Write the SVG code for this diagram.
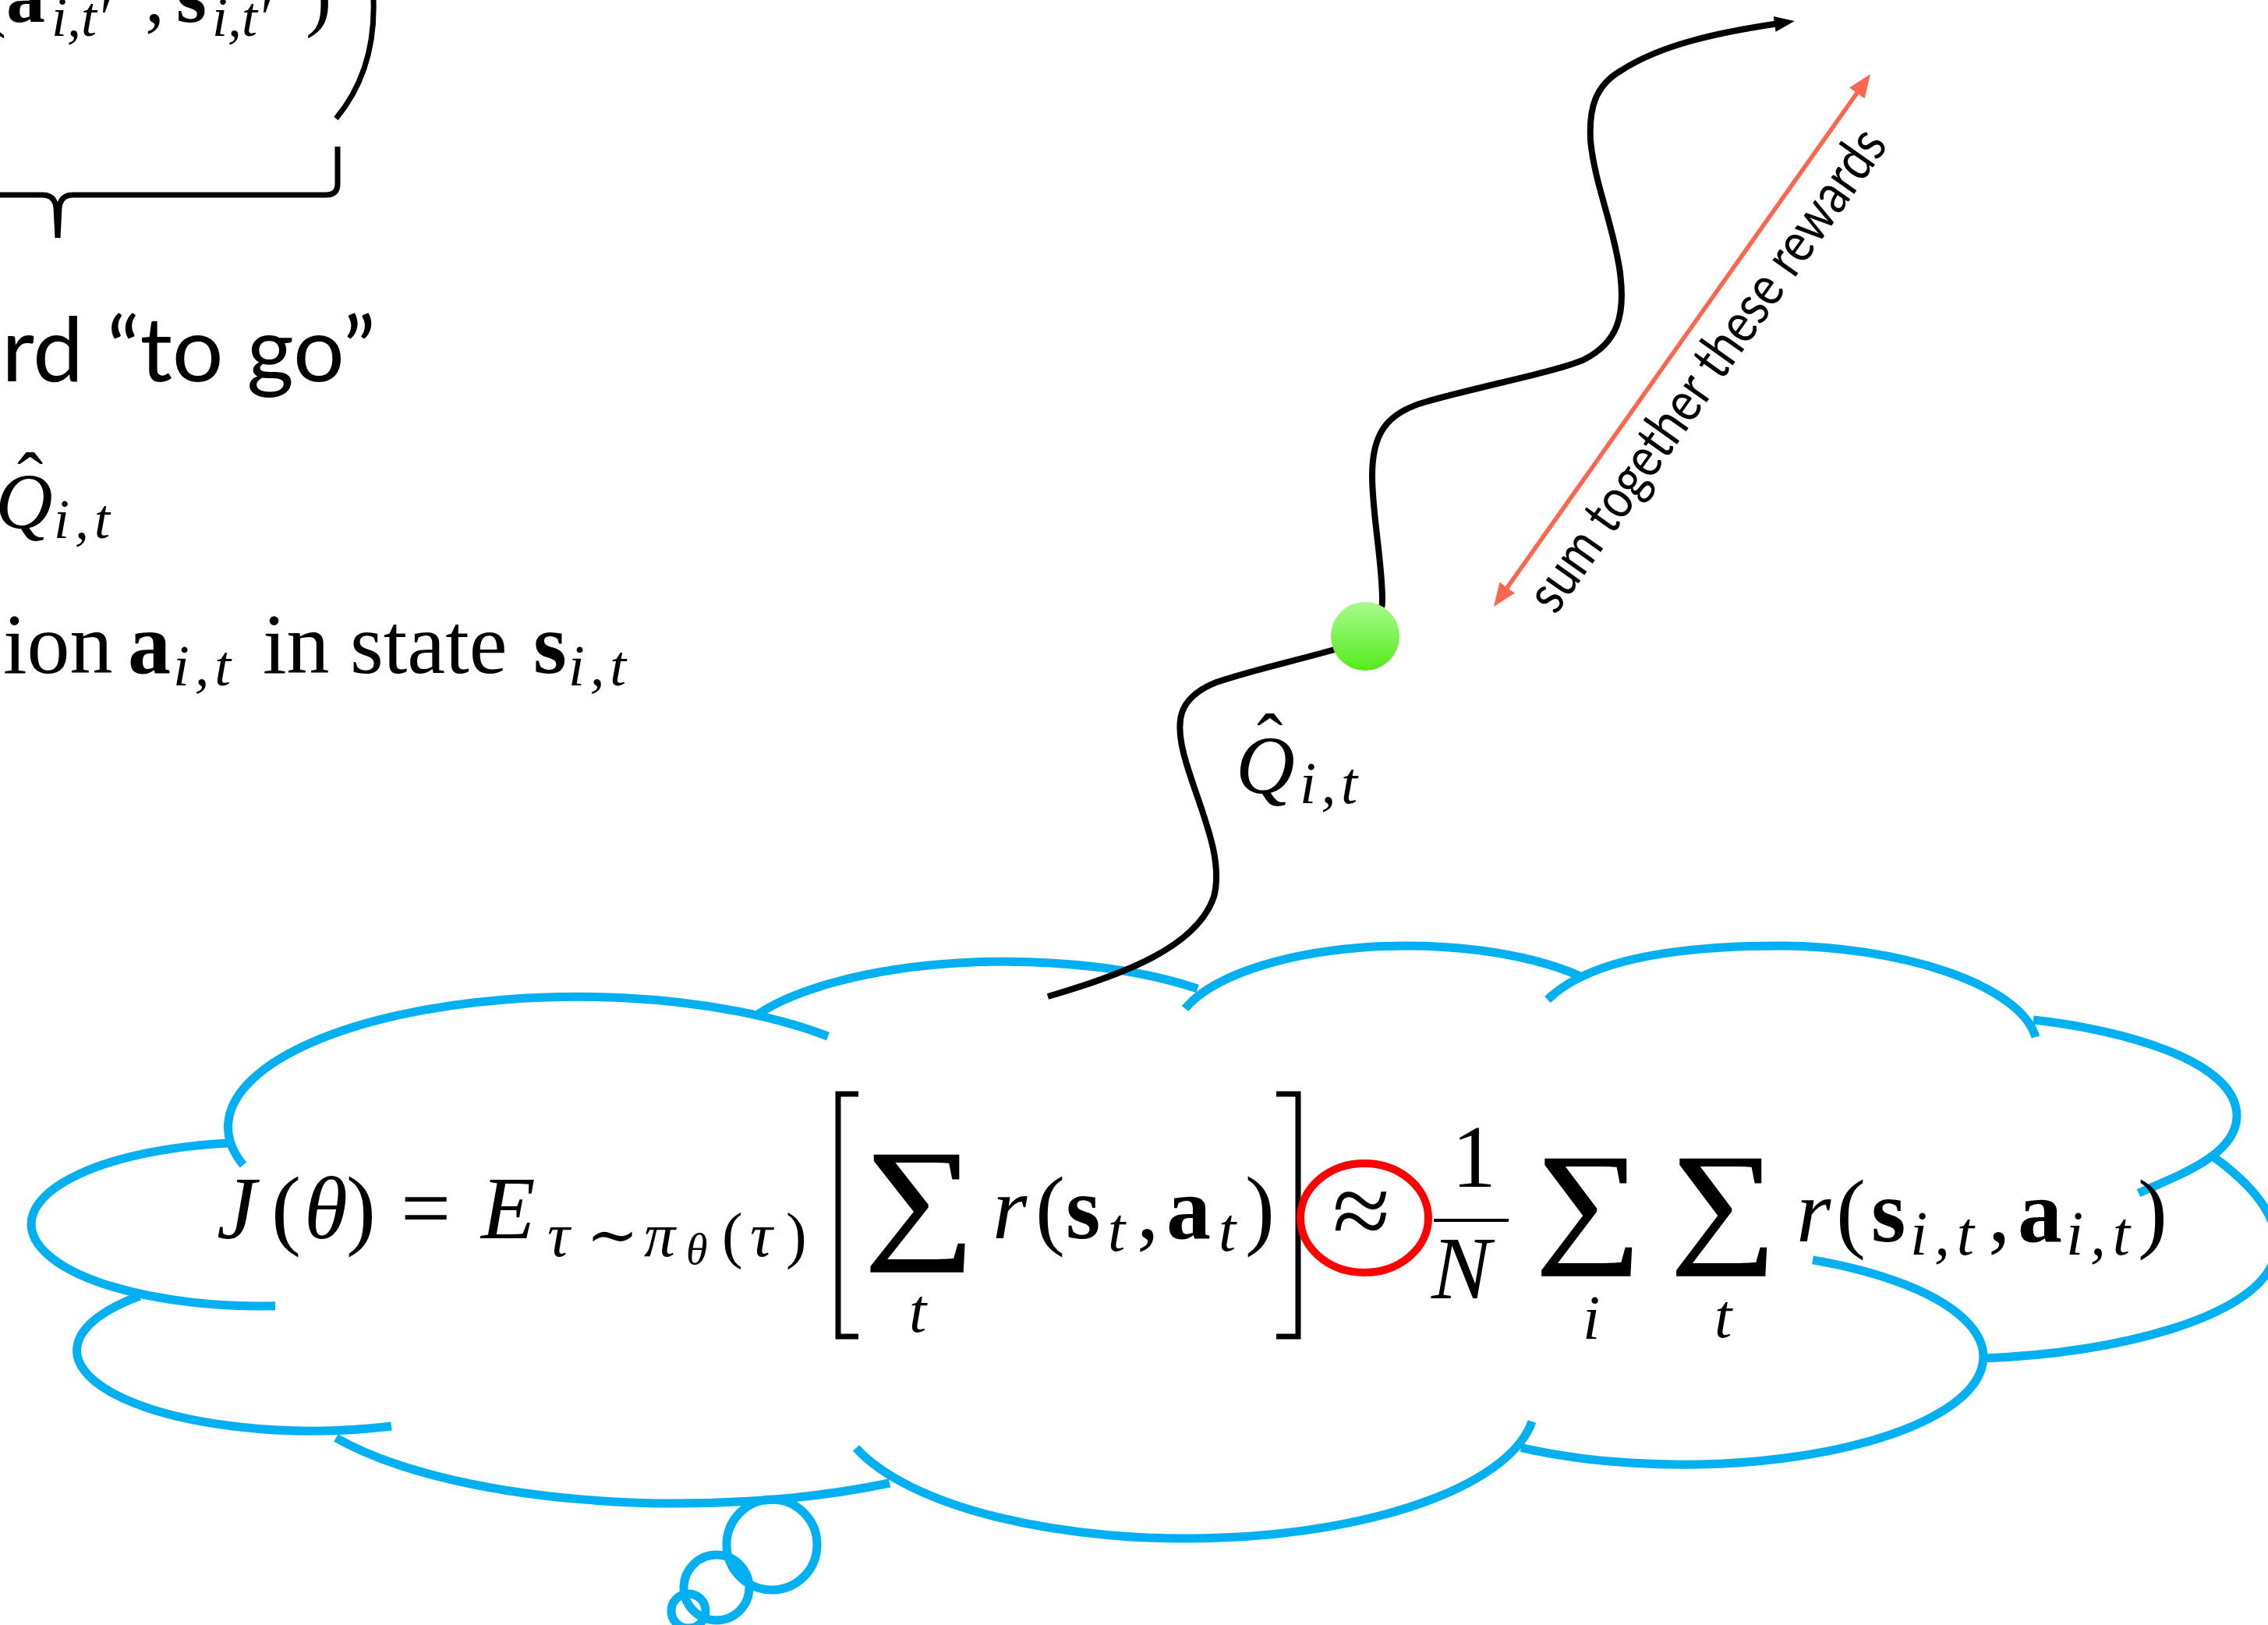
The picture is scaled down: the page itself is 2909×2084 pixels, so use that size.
<svg xmlns="http://www.w3.org/2000/svg" width="2909" height="2084" viewBox="0 0 2909 2084">
<style>
.m{font-family:"Liberation Serif","DejaVu Serif",serif;fill:#000}
.it{font-style:italic}
.bf{font-weight:bold}
.sig{stroke:#000;stroke-width:2.5}
.cl{fill:none;stroke:#00B0F0;stroke-width:11}
.sans{font-family:Lato,"Open Sans","Liberation Sans",sans-serif;fill:#000}
.blk{fill:none;stroke:#000;stroke-width:7}
</style>
<defs>
<linearGradient id="gdot" x1="0" y1="0" x2="0" y2="1">
<stop offset="0" stop-color="#A8FB8E"/>
<stop offset="1" stop-color="#55EA1C"/>
</linearGradient>
<marker id="ahB" viewBox="0 0 26 20" markerWidth="26" markerHeight="20" refX="6" refY="10" orient="auto" markerUnits="userSpaceOnUse">
<path d="M0,0 L26,10 L0,20 z" fill="#000"/>
</marker>
<marker id="ahR" viewBox="0 0 30 24" markerWidth="30" markerHeight="24" refX="10" refY="12" orient="auto-start-reverse" markerUnits="userSpaceOnUse">
<path d="M0,0 L30,12 L0,24 z" fill="#FF6650"/>
</marker>
</defs>
<rect width="2909" height="2084" fill="#fff"/>

<g id="top-left-fragment">
<text class="m" font-size="100" y="28"><tspan x="-25">(</tspan><tspan class="bf" x="8">a</tspan><tspan x="186">,</tspan><tspan class="bf" x="226">s</tspan><tspan x="392">)</tspan></text>
<text class="m it" font-size="72" y="46"><tspan x="66">i,t′</tspan></text>
<text class="m it" font-size="72" y="46"><tspan x="272">i,t′</tspan></text>
<path class="blk" stroke-width="8" d="M479,0 C481,60 466,110 431,152"/>
<path class="blk" d="M433,188 L433,236 Q433,250 418,250 L93,250 Q78,250 76,266 L74,305 M74,305 L72,266 Q70,250 55,250 L0,250"/>
</g>

<g id="reward-to-go">
<text class="sans" font-size="115" x="2" y="489" textLength="480" lengthAdjust="spacingAndGlyphs">rd “to go”</text>
</g>

<g id="q-hat-left">
<text class="m it" font-size="102" x="-6" y="678">Q</text>
<text class="m" font-size="100" x="22" y="650">ˆ</text>
<text class="m it" font-size="72" x="69" y="690" textLength="72" lengthAdjust="spacing">i,t</text>
</g>

<g id="action-state-line">
<text class="m" font-size="110" y="863"><tspan x="4">ion</tspan><tspan class="bf" x="164">a</tspan><tspan x="337">in</tspan><tspan x="449">state</tspan><tspan class="bf" x="684">s</tspan></text>
<text class="m it" font-size="75" x="222" y="879" textLength="74" lengthAdjust="spacing">i,t</text>
<text class="m it" font-size="75" x="729" y="879" textLength="74" lengthAdjust="spacing">i,t</text>
</g>

<g id="thought-cloud">
<path class="cl" d="M353,1674.7 A294,105 0 0 1 292,1466"/>
<path class="cl" d="M312,1494 A448,167 0 0 1 1062,1329"/>
<path class="cl" d="M973,1300 A362,130 0 0 1 1536,1268"/>
<path class="cl" d="M1520,1293.5 A299,117 0 0 1 2027,1252"/>
<path class="cl" d="M1985,1282 C2040,1228 2160,1213 2283,1213 C2430,1213 2590,1260 2611,1330"/>
<path class="cl" d="M2608,1308 C2720,1320 2870,1360 2869,1432 C2868,1480 2800,1505 2743,1530"/>
<path class="cl" d="M2837,1482 C2890,1520 2935,1570 2915,1620 C2885,1690 2720,1735 2543,1742"/>
<path class="cl" d="M2325,1615.8 A386,138 0 1 1 1951,1856.7"/>
<path class="cl" d="M1965,1823 A448,173 0 0 1 1098,1857"/>
<path class="cl" d="M1141,1902 A507,168 0 0 1 431,1844"/>
<path class="cl" d="M502,1829 A302,103 0 0 1 179,1662"/>
</g>

<g id="thought-bubbles">
<circle class="cl" cx="990" cy="1981" r="58"/>
<circle class="cl" cx="919" cy="2036" r="42"/>
<circle class="cl" cx="883" cy="2066" r="22"/>
</g>

<g id="objective-equation">
<text class="m" font-size="114" y="1588"><tspan class="it" x="278">J</tspan><tspan x="348">(</tspan><tspan class="it" x="390">θ</tspan><tspan x="444">)</tspan><tspan x="514">=</tspan><tspan class="it" x="617">E</tspan></text>
<text class="m" font-size="80" y="1611"><tspan class="it" x="702">τ</tspan><tspan x="752">∼</tspan><tspan class="it" x="826">π</tspan><tspan x="926">(</tspan><tspan class="it" x="962">τ</tspan><tspan x="1008">)</tspan></text>
<text class="m it" font-size="56" x="880" y="1621">θ</text>
<path class="blk" d="M1101,1403 L1075,1403 L1075,1714 L1101,1714"/>
<text class="m sig" font-size="171" x="1109" y="1594" textLength="141" lengthAdjust="spacingAndGlyphs">∑</text>
<text class="m it" font-size="80" x="1166" y="1708">t</text>
<text class="m" font-size="114" y="1588"><tspan class="it" x="1273">r</tspan><tspan x="1328">(</tspan><tspan class="bf" x="1367">s</tspan><tspan x="1458">,</tspan><tspan class="bf" x="1496">a</tspan><tspan x="1597">)</tspan></text>
<text class="m it" font-size="80" y="1604"><tspan x="1421">t</tspan><tspan x="1563">t</tspan></text>
<path class="blk" d="M1637,1403 L1665,1403 L1665,1714 L1637,1714"/>
<text class="m" font-size="135" x="1709" y="1598">≈</text>
<text class="m" font-size="114" x="1862" y="1522">1</text>
<line x1="1839" y1="1565" x2="1935" y2="1565" stroke="#000" stroke-width="4"/>
<text class="m it" font-size="114" x="1836" y="1665">N</text>
<text class="m sig" font-size="171" x="1970" y="1599" textLength="135" lengthAdjust="spacingAndGlyphs">∑</text>
<text class="m it" font-size="80" x="2030" y="1717">i</text>
<text class="m sig" font-size="171" x="2143" y="1599" textLength="135" lengthAdjust="spacingAndGlyphs">∑</text>
<text class="m it" font-size="80" x="2199" y="1715">t</text>
<text class="m" font-size="114" y="1592"><tspan class="it" x="2304">r</tspan><tspan x="2355">(</tspan><tspan class="bf" x="2400">s</tspan><tspan x="2550">,</tspan><tspan class="bf" x="2588">a</tspan><tspan x="2742">)</tspan></text>
<text class="m it" font-size="80" x="2450" y="1609" textLength="82" lengthAdjust="spacing">i,t</text>
<text class="m it" font-size="80" x="2650" y="1609" textLength="82" lengthAdjust="spacing">i,t</text>
</g>

<g id="approx-highlight">
<ellipse cx="1750" cy="1562" rx="82" ry="70" fill="none" stroke="#FF0000" stroke-width="10"/>
</g>

<g id="connectors">
<path id="trajectory" fill="none" stroke="#000" stroke-width="8" marker-end="url(#ahB)" d="M1344,1278 C1440,1250 1535,1215 1557,1150 C1570,1100 1540,1040 1522,980 C1505,925 1510,895 1560,875 C1610,858 1660,848 1715,832 C1745,820 1773,800 1773,770 C1773,720 1760,660 1760,610 C1760,560 1775,530 1830,515 C1900,495 1990,478 2030,462 C2075,440 2085,405 2078,350 C2070,290 2045,235 2040,180 C2038,140 2045,110 2080,90 C2130,58 2200,42 2282,30"/>
<line id="sum-arrow" x1="1927.5" y1="761.7" x2="2387.5" y2="111.3" stroke="#FF6650" stroke-width="5.5" marker-start="url(#ahR)" marker-end="url(#ahR)"/>
</g>

<g id="state-dot">
<circle cx="1751" cy="816" r="44" fill="url(#gdot)"/>
</g>

<g id="q-hat-label">
<text class="m it" font-size="105" x="1585" y="1017">Q</text>
<text class="m" font-size="100" x="1612" y="985">ˆ</text>
<text class="m it" font-size="76" x="1667" y="1030" textLength="74" lengthAdjust="spacing">i,t</text>
</g>

<g id="sum-label" transform="translate(1995,790) rotate(-54.7)">
<text class="sans" font-size="72" x="0" y="0" textLength="740" lengthAdjust="spacingAndGlyphs">sum together these rewards</text>
</g>
</svg>
